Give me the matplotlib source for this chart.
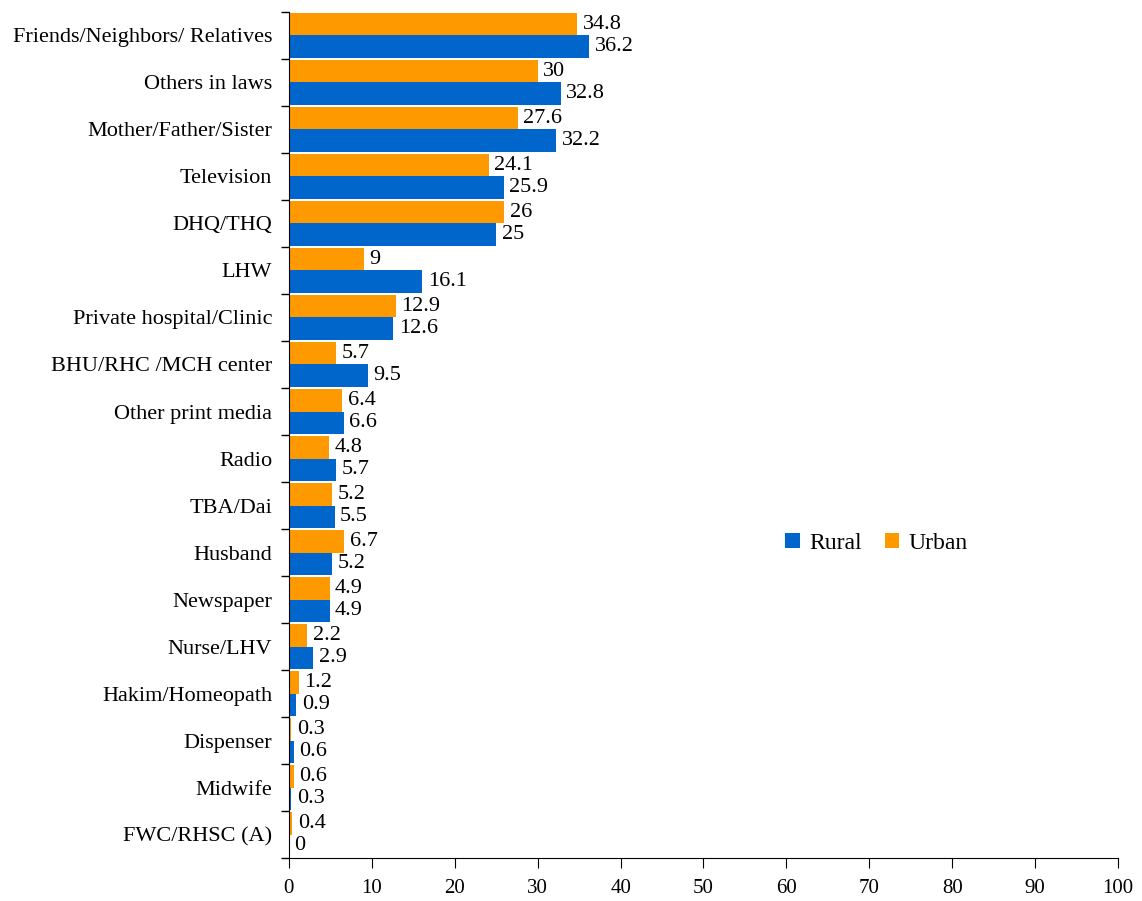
import matplotlib.pyplot as plt
import numpy as np

categories = ['Friends/Neighbors/ Relatives', 'Others in laws', 'Mother/Father/Sister',
              'Television', 'DHQ/THQ', 'LHW', 'Private hospital/Clinic',
              'BHU/RHC /MCH center', 'Other print media', 'Radio', 'TBA/Dai',
              'Husband', 'Newspaper', 'Nurse/LHV', 'Hakim/Homeopath', 'Dispenser',
              'Midwife', 'FWC/RHSC (A)']
urban = [34.8, 30, 27.6, 24.1, 26, 9, 12.9, 5.7, 6.4, 4.8, 5.2, 6.7, 4.9, 2.2, 1.2, 0.3, 0.6, 0.4]
rural = [36.2, 32.8, 32.2, 25.9, 25, 16.1, 12.6, 9.5, 6.6, 5.7, 5.5, 5.2, 4.9, 2.9, 0.9, 0.6, 0.3, 0]
xticks = [0, 10, 20, 30, 40, 50, 60, 70, 80, 90, 100]

BLUE = '#0066CC'
ORANGE = '#FF9900'


def main():
    plt.rcParams['font.family'] = ['Liberation Serif', 'DejaVu Serif']
    fig = plt.figure(figsize=(11.42, 9.01), dpi=100)
    ax = fig.add_axes([0.253, 0.0477, 0.726, 0.939])

    n = len(categories)
    y = np.arange(n)[::-1]
    h = 0.48
    bu = ax.barh(y + h / 2, urban, height=h, color=ORANGE, label='Urban')
    br = ax.barh(y - h / 2, rural, height=h, color=BLUE, label='Rural')

    for bars, vals in ((bu, urban), (br, rural)):
        for b, v in zip(bars, vals):
            ax.annotate(f'{v:g}', (b.get_width(), b.get_y() + b.get_height() / 2),
                        xytext=(4, 0), textcoords='offset points',
                        va='center', ha='left', fontsize=16)

    ax.set_ylim(-0.5, n - 0.5)
    ax.set_xlim(0, 100)
    ax.set_yticks(y)
    ax.set_yticklabels(categories, fontsize=16)
    ax.set_yticks(np.arange(n + 1) - 0.5, minor=True)
    ax.tick_params(axis='y', which='major', length=0, pad=12)
    ax.tick_params(axis='y', which='minor', length=6, width=1)
    ax.set_xticks(xticks)
    ax.tick_params(axis='x', labelsize=15, length=7, pad=8)

    for s in ('top', 'right'):
        ax.spines[s].set_visible(False)

    ax.legend(handles=[br, bu], loc='center', bbox_to_anchor=(0.709, 0.372),
              ncol=2, frameon=False, fontsize=17, handlelength=0.6,
              handleheight=0.6, handletextpad=0.4, columnspacing=1.0)

    fig.savefig('out.png')


main()
